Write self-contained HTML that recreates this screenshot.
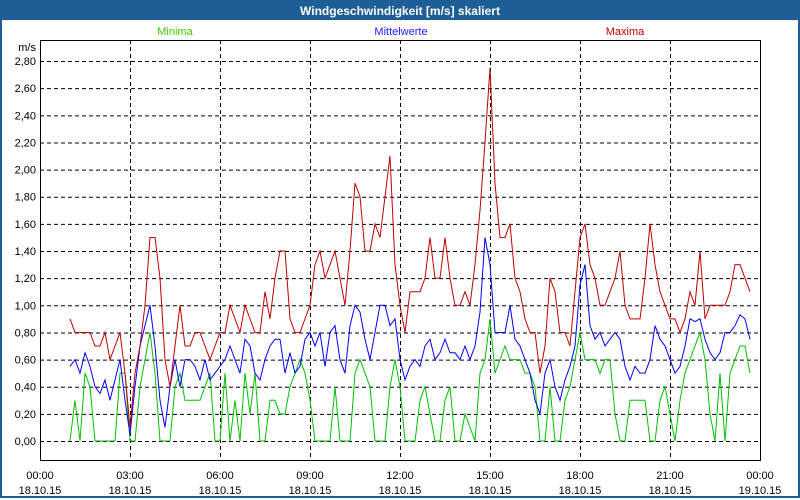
<!DOCTYPE html>
<html><head><meta charset="utf-8"><style>
html,body{margin:0;padding:0;background:#fff}
#wrap{position:relative;width:796px;height:496px;border:2px solid #1d5e96;border-top:none;font-family:"Liberation Sans",sans-serif}
#title{height:20px;background:#1d5e96;color:#fff;font-weight:bold;font-size:12px;text-align:center;line-height:22px}
svg{position:absolute;left:-2px;top:0}
</style></head><body>
<div id="wrap">
<div id="title">Windgeschwindigkeit [m/s] skaliert</div>
<svg id="chart" width="800" height="500" font-family="Liberation Sans, sans-serif" font-size="11"></svg>
</div>
<script>
const yTicks=[0,0.2,0.4,0.6,0.8,1.0,1.2,1.4,1.6,1.8,2.0,2.2,2.4,2.6,2.8];
const xTickHours=[0,3,6,9,12,15,18,21,24];
const xTickTimes=["00:00","03:00","06:00","09:00","12:00","15:00","18:00","21:00","00:00"];
const xTickDates=["18.10.15","18.10.15","18.10.15","18.10.15","18.10.15","18.10.15","18.10.15","18.10.15","19.10.15"];
const startHour=1, stepHours=1/6;
const maxima=[0.9,0.8,0.8,0.8,0.8,0.7,0.7,0.8,0.6,0.7,0.8,0.5,0.1,0.5,0.7,1.0,1.5,1.5,1.2,0.6,0.4,0.7,1.0,0.7,0.7,0.8,0.8,0.7,0.6,0.7,0.8,0.8,1.0,0.9,0.8,1.0,0.9,0.8,0.8,1.1,0.9,1.2,1.4,1.4,0.9,0.8,0.8,0.9,1.0,1.3,1.4,1.2,1.3,1.4,1.2,1.0,1.4,1.9,1.8,1.4,1.4,1.6,1.5,1.8,2.1,1.3,1.0,0.8,1.1,1.1,1.1,1.2,1.5,1.2,1.2,1.5,1.2,1.0,1.0,1.1,1.0,1.3,1.7,2.2,2.75,1.9,1.5,1.5,1.6,1.2,1.1,0.9,0.8,0.8,0.5,0.7,1.2,1.1,0.8,0.8,0.7,1.1,1.5,1.6,1.3,1.2,1.0,1.0,1.1,1.2,1.4,1.0,0.9,0.9,0.9,1.2,1.6,1.3,1.1,1.0,0.9,0.9,0.8,0.9,1.1,1.0,1.4,0.9,1.0,1.0,1.0,1.0,1.1,1.3,1.3,1.2,1.1];
const means=[0.55,0.6,0.5,0.65,0.55,0.4,0.35,0.45,0.3,0.45,0.6,0.3,0.05,0.4,0.7,0.85,1.0,0.7,0.3,0.1,0.4,0.6,0.4,0.6,0.6,0.55,0.45,0.6,0.45,0.5,0.55,0.6,0.7,0.6,0.5,0.75,0.7,0.5,0.45,0.6,0.7,0.75,0.75,0.5,0.65,0.5,0.55,0.75,0.8,0.7,0.8,0.55,0.8,0.85,0.6,0.5,0.85,1.0,0.95,0.75,0.6,0.8,1.0,1.0,0.85,0.9,0.6,0.45,0.55,0.6,0.55,0.7,0.75,0.6,0.65,0.75,0.65,0.65,0.6,0.7,0.6,0.7,0.95,1.5,1.3,0.8,0.8,0.8,1.0,0.75,0.7,0.6,0.5,0.3,0.2,0.5,0.6,0.4,0.3,0.45,0.55,0.7,1.15,1.3,0.85,0.75,0.8,0.7,0.75,0.8,0.75,0.55,0.45,0.55,0.5,0.5,0.6,0.85,0.75,0.7,0.6,0.5,0.55,0.7,0.9,0.88,0.9,0.75,0.65,0.6,0.65,0.8,0.8,0.85,0.93,0.9,0.75];
const minima=[0,0.3,0,0.5,0.4,0,0,0,0,0,0.5,0.5,0,0,0.4,0.6,0.8,0.5,0,0,0,0.4,0.5,0.3,0.3,0.3,0.3,0.4,0.5,0,0,0.5,0,0.3,0,0.5,0.2,0.5,0,0,0.3,0.3,0.2,0.2,0.4,0.5,0.6,0.5,0.3,0,0,0,0,0.4,0,0,0,0.5,0.6,0.5,0.4,0,0,0,0.4,0.6,0.4,0,0,0,0.3,0.4,0.2,0,0,0.3,0.4,0,0,0.2,0.1,0,0.5,0.6,0.9,0.5,0.6,0.7,0.6,0.6,0.6,0.5,0.5,0.4,0,0,0.4,0,0,0.3,0.4,0.6,0.8,0.6,0.6,0.6,0.5,0.6,0.6,0.2,0,0,0.3,0.3,0.3,0.3,0,0,0.3,0.4,0.2,0,0.3,0.5,0.6,0.7,0.8,0.6,0.2,0,0.5,0,0.5,0.6,0.7,0.7,0.5];

const svg=document.getElementById('chart');
const NS="http://www.w3.org/2000/svg";
const L=40,R=760,T=40,B=460;
const y0=441,pxPerUnit=135.7;
function yScale(v){return y0-v*pxPerUnit;}
function xScale(h){return L+h*30;}
function mk(tag,attrs){const e=document.createElementNS(NS,tag);for(const k in attrs)e.setAttribute(k,attrs[k]);svg.appendChild(e);return e;}

// grid
yTicks.forEach(v=>{
  const g=mk('line',{x1:L,x2:R,y1:yScale(v)+0.5,y2:yScale(v)+0.5,stroke:'#000','stroke-dasharray':'4,3'});
  
  
  const t=mk('text',{x:L-4,y:yScale(v)+4,'text-anchor':'end',fill:'#000'});
  t.textContent=v.toFixed(2).replace('.',',');
  
  
});
xTickHours.forEach((h,i)=>{
  if(h>0&&h<24){
    const g=mk('line',{x1:xScale(h)+0.5,x2:xScale(h)+0.5,y1:T,y2:B,stroke:'#000','stroke-dasharray':'4,3'});
    
    
  }
  const t1=mk('text',{x:xScale(h),y:479,'text-anchor':'middle',fill:'#000'});
  t1.textContent=xTickTimes[i];
  
  
  const t2=mk('text',{x:xScale(h),y:494,'text-anchor':'middle',fill:'#000'});
  t2.textContent=xTickDates[i];
  
  
});
const frame=mk('rect',{x:L+0.5,y:T+0.5,width:R-L,height:B-T,fill:'none',stroke:'#000'});


const unit=mk('text',{x:L-4,y:51,'text-anchor':'end',fill:'#000'});
unit.textContent='m/s';



function series(arr,color,name){
  const pts=arr.map((v,i)=>xScale(startHour+i*stepHours)+','+yScale(v)).join(' ');
  const p=mk('polyline',{points:pts,fill:'none',stroke:color,'stroke-width':1});
  
  
}
series(minima,'#00c000','series-minima');
series(means,'#0000ff','series-mittelwerte');
series(maxima,'#c00000','series-maxima');

[['Minima',175,'#3ccc00','legend-minima'],['Mittelwerte',401,'#2020ff','legend-mittelwerte'],['Maxima',625,'#c00000','legend-maxima']].forEach(l=>{
  const t=mk('text',{x:l[1],y:35,'text-anchor':'middle',fill:l[2]});
  t.textContent=l[0];
  
  
});
</script>
</body></html>
